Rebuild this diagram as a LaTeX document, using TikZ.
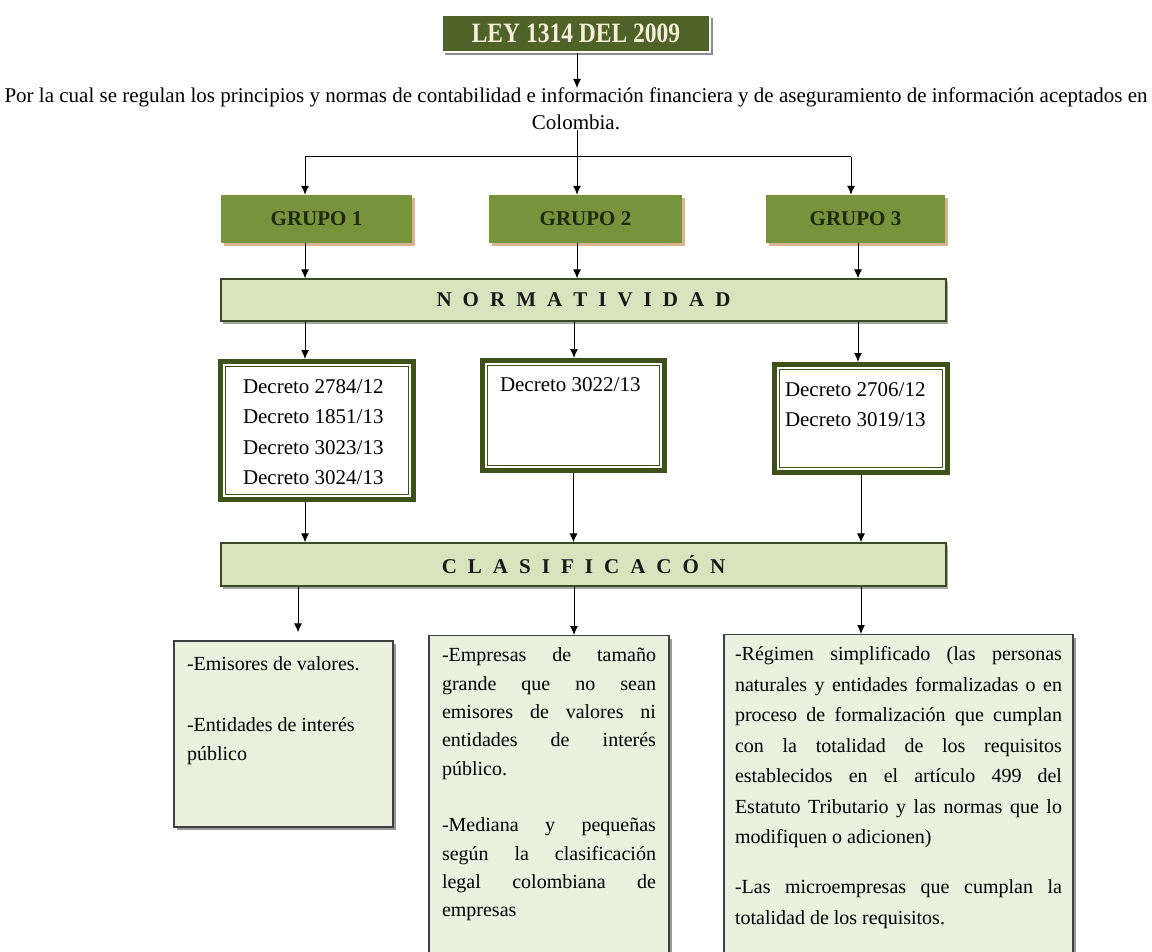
\documentclass[tikz,border=0pt]{standalone}
\usepackage{graphicx}
\usepackage{fontspec}
\setmainfont{Liberation Serif}
\newfontfamily\spacedfont[WordSpace=2.1]{Liberation Serif}
\usetikzlibrary{calc,shadows,arrows.meta}
\definecolor{leygreen}{HTML}{4F6228}
\definecolor{leytext}{HTML}{F4F0DA}
\definecolor{grupogreen}{HTML}{77933C}
\definecolor{grupotan}{HTML}{D9B38F}
\definecolor{grupotext}{HTML}{1D2A0C}
\definecolor{barfill}{HTML}{D7E4BD}
\definecolor{bardraw}{HTML}{3B4A22}
\definecolor{decframe}{HTML}{3E5119}
\definecolor{clasfill}{HTML}{EBF1DE}
\long\def\topbox(#1:#2)#3{\parbox[c][#2][t]{#1}{\tolerance=9999\hbadness=10000\vbadness=10000 #3}}
\def\innerline(#1){\draw[line width=1.2pt, draw=decframe] ($(#1.north west)+(7.6,7.6)$) rectangle ($(#1.south east)+(-7.6,-7.6)$);}
\tikzset{
	leybox/.style={draw=white, line width=2.5pt, fill=leygreen, minimum width=268pt, minimum height=37pt, inner sep=0pt, text=leytext, font=\fontsize{28}{30}\selectfont\bfseries, drop shadow={shadow xshift=3pt, shadow yshift=-3pt, fill=black!45, opacity=1}},
	grupobox/.style={fill=grupogreen, minimum height=48pt, inner sep=0pt, text=grupotext, font=\fontsize{21}{24}\selectfont\bfseries, drop shadow={shadow xshift=3pt, shadow yshift=-3pt, fill=grupotan, opacity=1}},
	barbox/.style={draw=bardraw, line width=1.2pt, fill=barfill, minimum width=725pt, inner sep=0pt, text=black!90, font=\spacedfont\fontsize{21}{24}\selectfont\bfseries, drop shadow={shadow xshift=2pt, shadow yshift=-3pt, fill=black!35, opacity=1}},
	decbox/.style={draw=decframe, line width=5pt, fill=white, font=\fontsize{21}{30.3}\selectfont},
	clasbox/.style={draw=black!75, line width=1.2pt, fill=clasfill, font=\fontsize{20}{29}\selectfont, drop shadow={shadow xshift=3pt, shadow yshift=-3pt, fill=black!40, opacity=1}},
	flecha/.style={-{Latex[length=9pt,width=8pt]}, line width=1pt}
}

\begin{document}
\begin{tikzpicture}[x=1pt, y=-1pt]
			%%%%% START %%%%%
			\useasboundingbox (0,0) rectangle (1152,952);
			\clip (0,0) rectangle (1152,952);
			
			\node[leybox] (ley) at (576,33.5) {\scalebox{0.84}[1]{LEY 1314 DEL 2009}};
			\node[anchor=north, align=center, inner sep=0pt, font=\fontsize{21}{27}\selectfont] (intro) at (576,88) {Por la cual se regulan los principios y normas de contabilidad e información financiera y de aseguramiento de información aceptados en\\ Colombia.};
			
			\coordinate (hub) at (577,157);
			\coordinate (hubL) at (305,157);
			\coordinate (hubR) at (851,157);
			\coordinate (colM) at (574,600);
			\coordinate (colR) at (858,600);
			\coordinate (colB) at (298,600);
			
			\node[grupobox, minimum width=191pt] (g1) at (316.5,219) {GRUPO 1};
			\node[grupobox, minimum width=193pt] (g2) at (585.5,219) {GRUPO 2};
			\node[grupobox, minimum width=179pt] (g3) at (855.5,219) {GRUPO 3};
			
			\node[barbox, minimum height=42pt] (norm) at (583.5,300) {N O R M A T I V I D A D};
			
			\node[decbox, minimum width=193pt, minimum height=138pt, inner xsep=22.5pt, inner ysep=18pt] (d1) at (317,430.5) {\topbox(148pt:102pt){Decreto 2784/12\par Decreto 1851/13\par Decreto 3023/13\par Decreto 3024/13}};
			\node[decbox, minimum width=182pt, minimum height=110pt, inner xsep=17.5pt, inner ysep=17pt] (d2) at (573.5,415.5) {\topbox(147pt:76pt){Decreto 3022/13}};
			\node[decbox, minimum width=173pt, minimum height=108pt, inner xsep=10.5pt, inner ysep=18pt] (d3) at (861,418.5) {\topbox(152pt:72pt){Decreto 2706/12\par Decreto 3019/13}};
			\innerline(d1)
			\innerline(d2)
			\innerline(d3)
			
			\node[barbox, minimum height=43pt] (clas) at (583.5,564.5) {C L A S I F I C A C Ó N};
			
			\node[clasbox, minimum width=219pt, minimum height=186pt, inner xsep=13pt, inner ysep=16pt] (b1) at (283.5,734) {\topbox(193pt:154pt){\raggedright\setlength{\parskip}{32pt}-Emisores de valores.\par -Entidades de interés público}};
			\node[clasbox, anchor=north, minimum width=240pt, minimum height=400pt, inner xsep=13pt, inner ysep=12.3pt] (b2) at (549,635) {\fontsize{20}{28.3}\selectfont\topbox(214pt:375pt){\setlength{\parskip}{28.3pt}-Empresas de tamaño\linebreak grande que no sean\linebreak emisores de valores ni\linebreak entidades de interés\linebreak público.\par -Mediana y pequeñas\linebreak según la clasificación\linebreak legal colombiana de\linebreak empresas}};
			\node[clasbox, anchor=north, minimum width=349pt, minimum height=400pt, inner xsep=11pt, inner ysep=12pt] (b3) at (898.5,634) {\fontsize{20}{30.5}\selectfont\topbox(327pt:376pt){\setlength{\parskip}{19.5pt}-Régimen simplificado (las personas\linebreak naturales y entidades formalizadas o en\linebreak proceso de formalización que cumplan\linebreak con la totalidad de los requisitos\linebreak establecidos en el artículo 499 del\linebreak Estatuto Tributario y las normas que lo\linebreak modifiquen o adicionen)\par -Las microempresas que cumplan la\linebreak totalidad de los requisitos.}};
			
			\draw[flecha] (ley.south -| hub) -- (intro.north -| hub);
			\draw[line width=1pt] (intro.south -| hub) -- (hub);
			\draw[line width=1pt] (hubL) -- (hubR);
			\draw[flecha] (hubL) -- (hubL |- g1.north);
			\draw[flecha] (hub) -- (hub |- g2.north);
			\draw[flecha] (hubR) -- (hubR |- g3.north);
			
			\draw[flecha] (g1.south -| hubL) -- (norm.north -| hubL);
			\draw[flecha] (g2.south -| hub) -- (norm.north -| hub);
			\draw[flecha] (g3.south -| colR) -- (norm.north -| colR);
			
			\draw[flecha] (norm.south -| hubL) -- (d1.north -| hubL);
			\draw[flecha] (norm.south -| colM) -- (d2.north -| colM);
			\draw[flecha] (norm.south -| colR) -- (d3.north -| colR);
			
			\draw[flecha] (d1.south -| hubL) -- (clas.north -| hubL);
			\draw[flecha] (d2.south) -- (d2.south |- clas.north);
			\draw[flecha] (d3.south) -- (d3.south |- clas.north);
			
			\draw[flecha, shorten >=8pt] (clas.south -| colB) -- (b1.north -| colB);
			\draw[flecha] (clas.south -| colM) -- (b2.north -| colM);
			\draw[flecha] (clas.south -| d3.south) -- (b3.north -| d3.south);
			
			%%%%% END %%%%%
\end{tikzpicture}
\end{document}
